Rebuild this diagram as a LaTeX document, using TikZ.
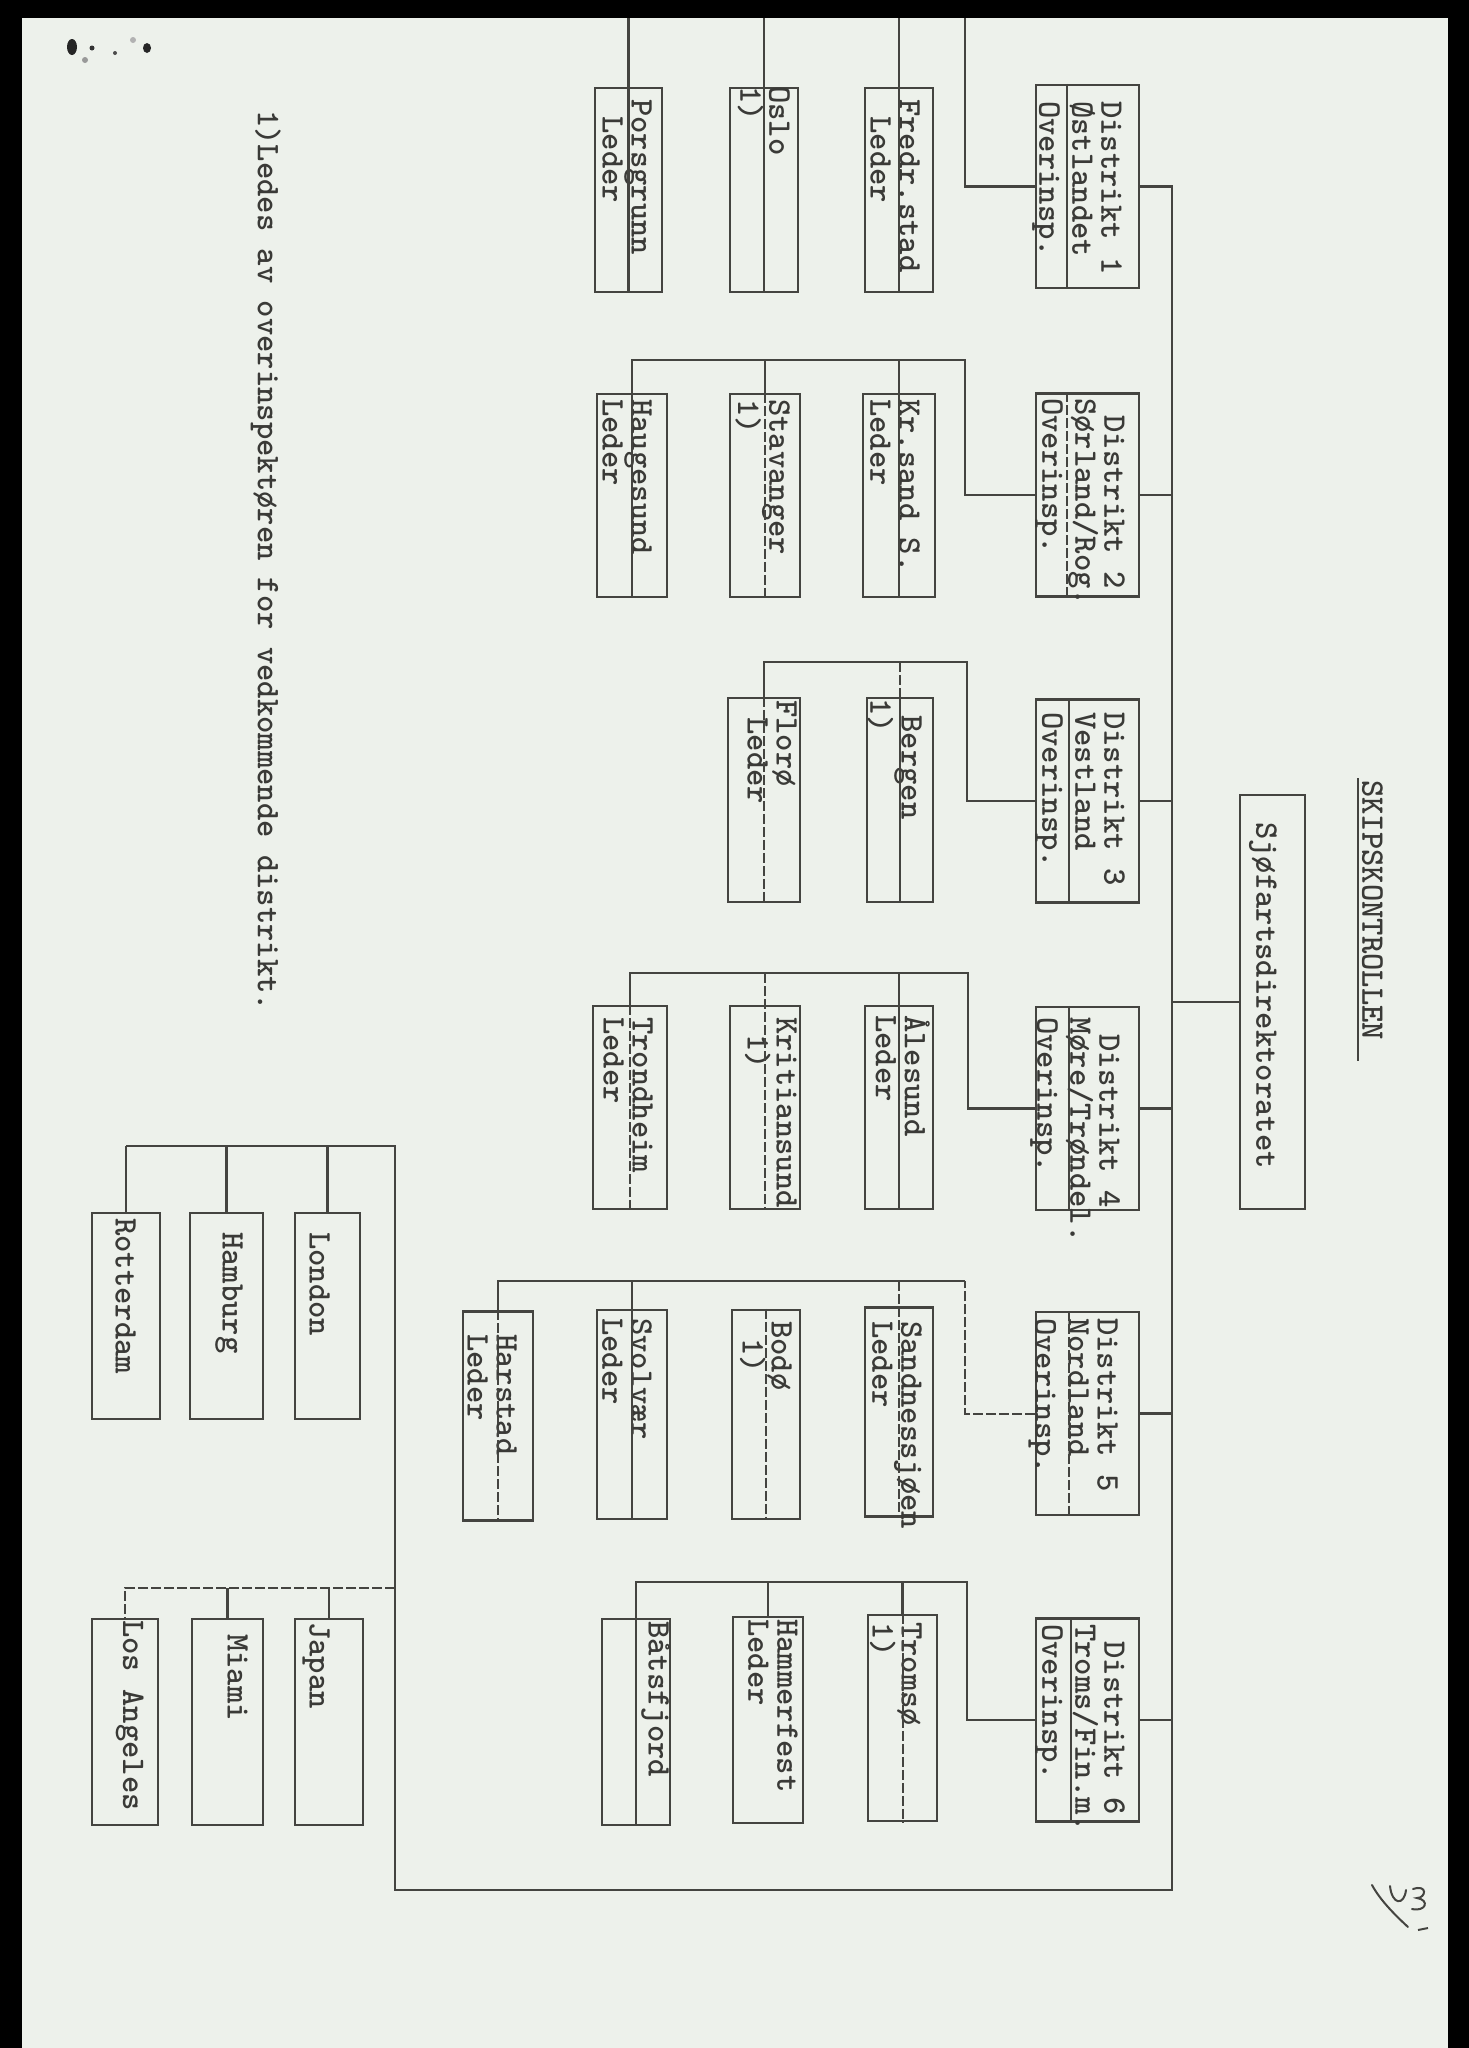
\documentclass[tikz,border=0pt]{standalone}
\usepackage{tikz}
\definecolor{paper}{RGB}{237,241,235}
\definecolor{ink}{RGB}{68,68,64}
\definecolor{type}{RGB}{58,58,55}
\newcommand{\typefont}{\fontsize{33}{29}\ttfamily\bfseries}

\tikzset{
  box/.style={draw=ink, line width=2.2pt, inner sep=0pt},
  typed/.style={rotate=-90, anchor=north west, inner sep=0pt, align=left, text=type, font=\typefont},
  wire/.style={draw=ink, line width=2.2pt},
  dotwire/.style={draw=ink, line width=2pt, dash pattern=on 10pt off 3pt},
}

\begin{document}
\begin{tikzpicture}[x=1pt, y=-1pt]

  %page
  \fill[paper] (0,0) rectangle (1469,2048);
  \useasboundingbox (0,0) rectangle (1469,2048);
  \fill[black] (0,0) rectangle (22,2048);
  \fill[black] (0,0) rectangle (1469,18);
  \fill[black] (1448,0) rectangle (1469,2048);

  %heading
  \node[typed] (title) at (1383,780) {SKIPSKONTROLLEN};
  \draw[ink, line width=2.6pt] (1358,778) -- (1358,1061);
  \node[box, minimum width=65, minimum height=414] (sjof) at (1272.5,1002) {};
  \node[typed] (sjof-text) at (1277,822) {Sjøfartsdirektoratet};

  %districts
  \node[box, minimum width=103, minimum height=203] (d1) at (1087.5,186.5) {};
  \node[box, minimum width=103, minimum height=203] (d2) at (1087.5,495) {};
  \node[box, minimum width=103, minimum height=203] (d3) at (1087.5,801) {};
  \node[box, minimum width=103, minimum height=203] (d4) at (1087.5,1108.5) {};
  \node[box, minimum width=103, minimum height=203] (d5) at (1087.5,1413.5) {};
  \node[box, minimum width=103, minimum height=203] (d6) at (1087.5,1720) {};

  \node[typed] (d1-text) at (1122,101) {Distrikt 1\\Østlandet\\[4pt]Overinsp.};
  \node[typed] (d2-text) at (1125,398) {\hphantom{D}Distrikt 2\\Sørland/Rog.\\[4pt]Overinsp.};
  \node[typed] (d3-text) at (1125,712) {Distrikt 3\\Vestland\\[4pt]Overinsp.};
  \node[typed] (d4-text) at (1120,1017) {\hphantom{D}Distrikt 4\\Møre/Trøndel.\\[4pt]Overinsp.};
  \node[typed] (d5-text) at (1118,1318) {Distrikt 5\\Nordland\\[4pt]Overinsp.};
  \node[typed] (d6-text) at (1125,1624) {\hphantom{D}Distrikt 6\\Troms/Fin.m.\\[4pt]Overinsp.};

  \draw[wire] ([xshift=32pt]d1.north west) -- ([xshift=32pt]d1.south west);
  \draw[dotwire] ([xshift=32pt]d2.north west) -- ([xshift=32pt]d2.south west);
  \draw[wire] ([xshift=34pt]d3.north west) -- ([xshift=34pt]d3.south west);
  \draw[wire] ([xshift=34pt]d4.north west) -- ([xshift=34pt]d4.south west);
  \draw[dotwire] ([xshift=34pt]d5.north west) -- ([xshift=34pt]d5.south west);
  \draw[wire] ([xshift=36pt]d6.north west) -- ([xshift=36pt]d6.south west);

  %offices, district 1
  \node[box, minimum width=67, minimum height=204] (porsgrunn) at (628.5,190) {};
  \node[box, minimum width=68, minimum height=204] (oslo) at (764,190) {};
  \node[box, minimum width=68, minimum height=204] (fredrstad) at (899,190) {};
  \node[typed] (porsgrunn-text) at (652,99) {Porsgrunn\\\hphantom{L}Leder};
  \node[typed] (oslo-text) at (790,86) {Oslo\\1)};
  \node[typed] (fredrstad-text) at (920,99) {Fredr.stad\\\hphantom{L}Leder};

  %offices, district 2
  \node[box, minimum width=70, minimum height=203] (haugesund) at (632,495.5) {};
  \node[box, minimum width=70, minimum height=203] (stavanger) at (765,495.5) {};
  \node[box, minimum width=72, minimum height=203] (krsand) at (899,495.5) {};
  \node[typed] (haugesund-text) at (652,399) {Haugesund\\Leder};
  \node[typed] (stavanger-text) at (790,399) {Stavanger\\1)};
  \node[typed] (krsand-text) at (920,399) {Kr.sand S.\\Leder};

  %offices, district 3
  \node[box, minimum width=72, minimum height=204] (floro) at (764,800) {};
  \node[box, minimum width=66, minimum height=204] (bergen) at (900,800) {};
  \node[typed] (floro-text) at (797,700) {Florø\\\hphantom{L}Leder};
  \node[typed] (bergen-text) at (922,698) {\hphantom{B}Bergen\\1)};

  %offices, district 4
  \node[box, minimum width=74, minimum height=203] (trondheim) at (630,1107.5) {};
  \node[box, minimum width=70, minimum height=203] (kritiansund) at (765,1107.5) {};
  \node[box, minimum width=68, minimum height=203] (alesund) at (899,1107.5) {};
  \node[typed] (trondheim-text) at (653,1017) {Trondheim\\Leder};
  \node[typed] (kritiansund-text) at (797,1017) {Kritiansund\\\hphantom{1}1)};
  \node[typed] (alesund-text) at (930,1015) {Ålesund\\Leder};

  %offices, district 5
  \node[box, minimum width=70, minimum height=209] (harstad) at (498,1416) {};
  \node[box, minimum width=70, minimum height=209] (svolvaer) at (632,1414.5) {};
  \node[box, minimum width=68, minimum height=209] (bodo) at (766,1414.5) {};
  \node[box, minimum width=68, minimum height=209] (sandnessjoen) at (899,1412) {};
  \node[typed] (harstad-text) at (517,1334) {Harstad\\Leder};
  \node[typed] (svolvaer-text) at (652,1318) {Svolvær\\Leder};
  \node[typed] (bodo-text) at (792,1321) {Bodø\\\hphantom{1}1)};
  \node[typed] (sandnessjoen-text) at (922,1321) {Sandnessjøen\\Leder};

  %offices, district 6
  \node[box, minimum width=68, minimum height=206] (batsfjord) at (636,1722) {};
  \node[box, minimum width=70, minimum height=206] (hammerfest) at (768,1720) {};
  \node[box, minimum width=69, minimum height=206] (tromso) at (902.5,1718) {};
  \node[typed] (batsfjord-text) at (670,1621) {Båtsfjord};
  \node[typed] (hammerfest-text) at (798,1619) {Hammerfest\\Leder};
  \node[typed] (tromso-text) at (922,1622) {Tromsø\\1)};

  %offices abroad
  \node[box, minimum width=65, minimum height=206] (london) at (327.5,1316) {};
  \node[box, minimum width=73, minimum height=206] (hamburg) at (226.5,1316) {};
  \node[box, minimum width=68, minimum height=206] (rotterdam) at (126,1316) {};
  \node[box, minimum width=68, minimum height=206] (japan) at (329,1722) {};
  \node[box, minimum width=71, minimum height=206] (miami) at (227.5,1722) {};
  \node[box, minimum width=66, minimum height=206] (losangeles) at (125,1722) {};
  \node[typed] (london-text) at (330,1232) {London};
  \node[typed] (hamburg-text) at (243,1232) {Hamburg};
  \node[typed] (rotterdam-text) at (136,1218) {Rotterdam};
  \node[typed] (japan-text) at (330,1622) {Japan};
  \node[typed] (miami-text) at (248,1634) {Miami};
  \node[typed] (losangeles-text) at (144,1620) {Los Angeles};

  %footnote
  \node[typed] (note) at (281,110) {1)Ledes av overinspektøren for vedkommende distrikt.};

  %spine
  \coordinate (spine) at (1172,1890);
  \coordinate (abroad) at (395,1146);
  \coordinate (overseas) at (395,1588);
  \draw[wire] (d1.east) -- (d1.east -| spine) -- (spine) -| (abroad) -- (rotterdam.north |- abroad);
  \draw[wire] (d2.east) -- (d2.east -| spine);
  \draw[wire] (d3.east) -- (d3.east -| spine);
  \draw[wire] (d4.east) -- (d4.east -| spine);
  \draw[wire] (d5.east) -- (d5.east -| spine);
  \draw[wire] (d6.east) -- (d6.east -| spine);
  \draw[wire] (sjof.west) -- (sjof.west -| spine);

  %abroad
  \draw[wire] (rotterdam.north |- abroad) -- (rotterdam.north);
  \draw[wire] (hamburg.north |- abroad) -- (hamburg.north);
  \draw[wire] (london.north |- abroad) -- (london.north);
  \draw[dotwire] (overseas) -- (losangeles.north |- overseas) -- (losangeles.north);
  \draw[wire] (miami.north |- overseas) -- (miami.north);
  \draw[wire] (japan.north |- overseas) -- (japan.north);

  %district 1 lines
  \coordinate (d1bus) at (965,18);
  \draw[wire] (d1.west) -| (d1bus);
  \draw[wire] (porsgrunn.north |- d1bus) -- (porsgrunn.south);
  \draw[wire] (oslo.north |- d1bus) -- (oslo.south);
  \draw[wire] (fredrstad.north |- d1bus) -- (fredrstad.south);

  %district 2 lines
  \coordinate (d2bus) at (965,360);
  \draw[wire] (d2.west) -| (d2bus) -| (haugesund.south);
  \draw[wire] (stavanger.north |- d2bus) -- (stavanger.north);
  \draw[dotwire] (stavanger.north) -- (stavanger.south);
  \draw[wire] (krsand.north |- d2bus) -- (krsand.south);

  %district 3 lines
  \coordinate (d3bus) at (967,662);
  \draw[wire] (d3.west) -| (d3bus) -| (floro.north);
  \draw[dotwire] (floro.north) -- (floro.south);
  \draw[dotwire] (bergen.north |- d3bus) -- (bergen.north);
  \draw[wire] (bergen.north) -- (bergen.south);

  %district 4 lines
  \coordinate (d4bus) at (968,973);
  \draw[wire] (d4.west) -| (d4bus) -| (trondheim.north);
  \draw[dotwire] (trondheim.north) -- (trondheim.south);
  \draw[dotwire] (kritiansund.north |- d4bus) -- (kritiansund.south);
  \draw[wire] (alesund.north |- d4bus) -- (alesund.south);

  %district 5 lines
  \coordinate (d5bus) at (965,1281);
  \draw[dotwire] (d5.west) -| (d5bus);
  \draw[wire] (d5bus) -| (harstad.north);
  \draw[dotwire] (harstad.north) -- (harstad.south);
  \draw[wire] (svolvaer.north |- d5bus) -- (svolvaer.south);
  \draw[dotwire] (bodo.north) -- (bodo.south);
  \draw[dotwire] (sandnessjoen.north |- d5bus) -- (sandnessjoen.south);

  %district 6 lines
  \coordinate (d6bus) at (967,1582);
  \draw[wire] (d6.west) -| (d6bus) -| (batsfjord.south);
  \draw[wire] (hammerfest.north |- d6bus) -- (hammerfest.north);
  \draw[wire] (tromso.north |- d6bus) -- (tromso.north);
  \draw[dotwire] (tromso.north) -- (tromso.south);

  %marks on the sheet
  \fill[black!85] (72,47) ellipse [x radius=5pt, y radius=8pt];
  \fill[black!80] (92,48) circle [radius=2.5pt];
  \fill[black!40] (85,60) circle [radius=3pt];
  \fill[black!70] (115,53) circle [radius=2pt];
  \fill[black!30] (133,40) circle [radius=3pt];
  \fill[black!85] (147,48) ellipse [x radius=4pt, y radius=5pt];
  \draw[ink, line width=2pt, line cap=round] (1372,1885) .. controls (1380,1900) and (1395,1915) .. (1408,1927);
  \draw[ink, line width=2pt, line cap=round] (1390,1886) .. controls (1392,1905) and (1404,1906) .. (1406,1890);
  \draw[ink, line width=2pt, line cap=round] (1413,1889) .. controls (1428,1884) and (1426,1898) .. (1417,1898) .. controls (1430,1900) and (1426,1912) .. (1412,1909);
  \draw[ink, line width=2pt] (1418,1930) -- (1428,1928);
\end{tikzpicture}
\end{document}
